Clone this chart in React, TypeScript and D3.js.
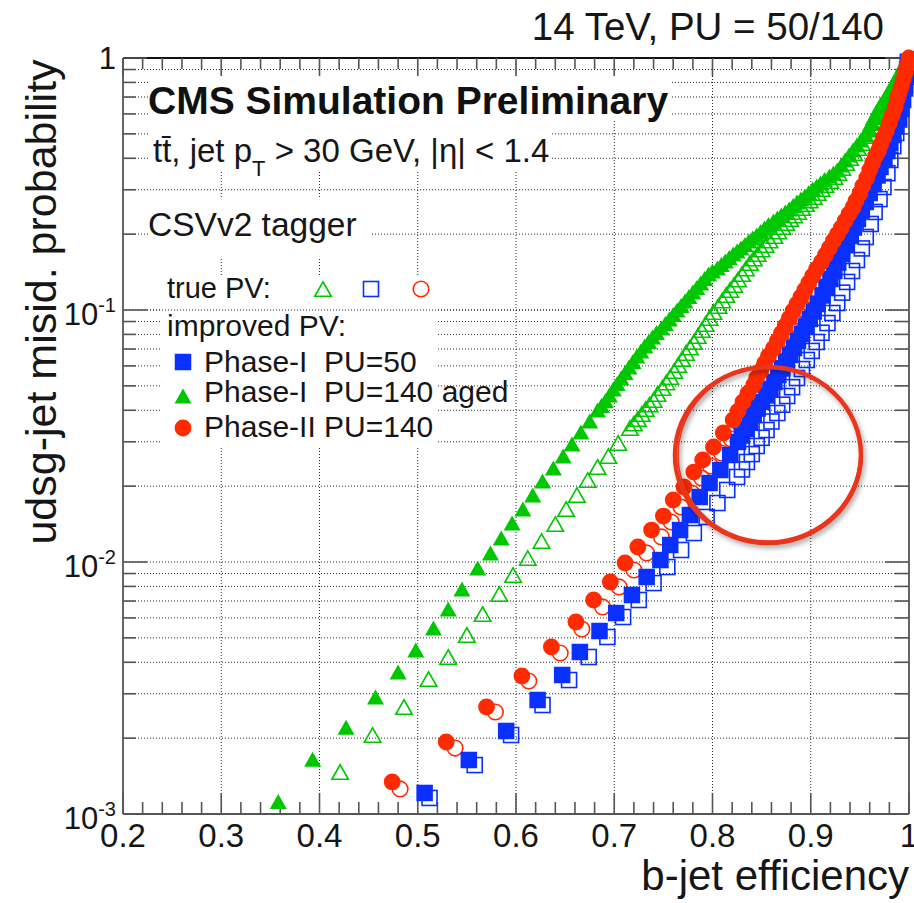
import React from 'react';
import * as d3 from 'd3';

type Pt = [number, number];

// ---------- axis ticks ----------
const xTickValues = [0.2, 0.3, 0.4, 0.5, 0.6, 0.7, 0.8, 0.9, 1.0];
const xTickLabels = ['0.2', '0.3', '0.4', '0.5', '0.6', '0.7', '0.8', '0.9', '1'];
const yDecadeValues = [0.001, 0.01, 0.1, 1];
const yDecadeBase = ['10', '10', '10', '1'];
const yDecadeExp = ['-3', '-2', '-1', ''];

// ---------- data: [b-jet efficiency, udsg mistag] ----------
// Phase-I PU=140 aged, improved PV (filled green triangles)
const agedImproved: Pt[] = [
  [0.358, 0.00112], [0.393, 0.00165], [0.427, 0.00221], [0.457, 0.00291], [0.480, 0.00366],
  [0.498, 0.00448], [0.516, 0.00547], [0.531, 0.00651], [0.545, 0.00782], [0.561, 0.00947],
  [0.574, 0.01086], [0.585, 0.01245], [0.596, 0.01428], [0.607, 0.01623], [0.617, 0.01844],
  [0.627, 0.02097], [0.638, 0.0236], [0.648, 0.02634], [0.657, 0.02939], [0.666, 0.0328],
  [0.675, 0.03627], [0.683, 0.0401], [0.687, 0.0418], [0.691, 0.0436], [0.695, 0.046],
  [0.699, 0.0486], [0.703, 0.0511], [0.707, 0.0537], [0.711, 0.0565], [0.715, 0.0594],
  [0.719, 0.0625], [0.723, 0.0657], [0.727, 0.0688], [0.731, 0.072], [0.735, 0.075],
  [0.739, 0.0782], [0.743, 0.0814], [0.748, 0.0848], [0.752, 0.0884], [0.756, 0.0921],
  [0.760, 0.096], [0.764, 0.1], [0.768, 0.1042], [0.772, 0.1086], [0.776, 0.1131],
  [0.780, 0.1179], [0.784, 0.1228], [0.788, 0.128], [0.792, 0.1333], [0.796, 0.1389],
  [0.800, 0.1428], [0.805, 0.1468], [0.809, 0.1515], [0.813, 0.1565], [0.817, 0.1616],
  [0.821, 0.1668], [0.825, 0.1714], [0.829, 0.1762], [0.833, 0.1819], [0.837, 0.1878],
  [0.841, 0.193], [0.845, 0.1984], [0.849, 0.2048], [0.853, 0.2115], [0.857, 0.2184],
  [0.862, 0.2255], [0.866, 0.2318], [0.870, 0.2382], [0.874, 0.2449], [0.878, 0.2517],
  [0.882, 0.2599], [0.886, 0.2683], [0.890, 0.2758], [0.894, 0.2836], [0.898, 0.2927],
  [0.902, 0.3021], [0.906, 0.3105], [0.910, 0.3192], [0.914, 0.3295], [0.919, 0.3402],
  [0.923, 0.3497], [0.927, 0.3594], [0.931, 0.3762], [0.935, 0.3938], [0.939, 0.4122],
  [0.943, 0.4315], [0.947, 0.4516], [0.951, 0.4727], [0.955, 0.4948], [0.959, 0.5179],
  [0.963, 0.5496], [0.966, 0.5833], [0.970, 0.6162], [0.973, 0.6509], [0.976, 0.6813],
  [0.978, 0.713], [0.981, 0.7498], [0.984, 0.7885], [0.987, 0.8254], [0.990, 0.864],
  [0.993, 0.9002], [0.995, 0.938], [0.997, 0.9685], [0.999, 1.0],
];
// Phase-I PU=140 aged, true PV (open green triangles)
const agedTrue: Pt[] = [
  [0.421, 0.001468], [0.454, 0.002058], [0.486, 0.002658], [0.511, 0.003433], [0.531, 0.004198],
  [0.550, 0.005133], [0.566, 0.006218], [0.583, 0.007464], [0.597, 0.00888], [0.612, 0.01037],
  [0.626, 0.01211], [0.640, 0.01415], [0.651, 0.01623], [0.662, 0.01844], [0.673, 0.02115],
  [0.683, 0.02382], [0.694, 0.02634], [0.704, 0.02966], [0.716, 0.03402], [0.720, 0.03545],
  [0.724, 0.03694], [0.728, 0.03866], [0.732, 0.04047], [0.736, 0.04217], [0.740, 0.04394],
  [0.744, 0.04642], [0.749, 0.04904], [0.753, 0.05157], [0.757, 0.05422], [0.761, 0.05727],
  [0.765, 0.06049], [0.769, 0.06391], [0.773, 0.06752], [0.777, 0.07099], [0.781, 0.07464],
  [0.785, 0.07885], [0.789, 0.0833], [0.793, 0.088], [0.797, 0.09296], [0.801, 0.0982],
  [0.806, 0.1037], [0.810, 0.1091], [0.814, 0.1147], [0.818, 0.1201], [0.822, 0.1257],
  [0.826, 0.1321], [0.830, 0.1389], [0.834, 0.1461], [0.838, 0.1536], [0.842, 0.1601],
  [0.846, 0.1668], [0.850, 0.1738], [0.854, 0.1811], [0.858, 0.1887], [0.863, 0.1966],
  [0.867, 0.2049], [0.871, 0.2135], [0.875, 0.2214], [0.879, 0.2297], [0.883, 0.2372],
  [0.887, 0.2449], [0.891, 0.254], [0.895, 0.2634], [0.899, 0.272], [0.903, 0.2808],
  [0.907, 0.2913], [0.911, 0.3021], [0.915, 0.3133], [0.920, 0.325], [0.924, 0.3372],
  [0.928, 0.3498], [0.932, 0.3661], [0.936, 0.3831], [0.940, 0.401], [0.944, 0.4198],
  [0.948, 0.4394], [0.952, 0.46], [0.956, 0.4903], [0.959, 0.5227], [0.962, 0.5522],
  [0.965, 0.5833], [0.968, 0.6134], [0.971, 0.645], [0.975, 0.6782], [0.978, 0.713],
  [0.981, 0.7464], [0.984, 0.7813], [0.987, 0.8216], [0.990, 0.864], [0.993, 0.9002],
  [0.995, 0.938], [0.997, 0.9685], [0.999, 1.0],
];
// Phase-I PU=50, improved PV (filled blue squares)
const pu50Improved: Pt[] = [
  [0.507, 0.001212], [0.552, 0.001638], [0.590, 0.002135], [0.622, 0.002834], [0.647, 0.003561],
  [0.665, 0.004394], [0.685, 0.005323], [0.702, 0.006273], [0.718, 0.007396], [0.733, 0.00872],
  [0.747, 0.01018], [0.757, 0.01168], [0.767, 0.01339], [0.777, 0.01536], [0.787, 0.01811],
  [0.797, 0.02058], [0.808, 0.02318], [0.818, 0.02658], [0.826, 0.02994], [0.830, 0.03177],
  [0.834, 0.03371], [0.838, 0.03594], [0.842, 0.03831], [0.846, 0.04066], [0.850, 0.04315],
  [0.855, 0.04579], [0.859, 0.04859], [0.863, 0.0518], [0.867, 0.05522], [0.871, 0.05861],
  [0.875, 0.06218], [0.879, 0.06629], [0.883, 0.07066], [0.887, 0.07533], [0.891, 0.0803],
  [0.895, 0.086], [0.899, 0.09211], [0.903, 0.09862], [0.907, 0.1056], [0.912, 0.1142],
  [0.916, 0.1234], [0.920, 0.1327], [0.924, 0.1428], [0.928, 0.1543], [0.932, 0.1668],
  [0.936, 0.1811], [0.940, 0.1966], [0.944, 0.2125], [0.948, 0.2297], [0.952, 0.2483],
  [0.956, 0.2683], [0.960, 0.2913], [0.964, 0.3162], [0.968, 0.3418], [0.971, 0.3694],
  [0.975, 0.3974], [0.978, 0.4275], [0.981, 0.46], [0.984, 0.495], [0.987, 0.535],
  [0.989, 0.578], [0.992, 0.6276], [0.994, 0.6813], [0.996, 0.757], [0.997, 0.8407],
  [0.998, 0.9], [0.999, 0.964],
];
// Phase-I PU=50, true PV (open blue squares)
const pu50True: Pt[] = [
  [0.512, 0.001158], [0.558, 0.001564], [0.595, 0.002058], [0.627, 0.002707], [0.654, 0.003401],
  [0.674, 0.004198], [0.693, 0.00504], [0.709, 0.006049], [0.725, 0.007066], [0.740, 0.00825],
  [0.754, 0.00955], [0.768, 0.01116], [0.781, 0.01303], [0.794, 0.01509], [0.805, 0.01714],
  [0.815, 0.01931], [0.825, 0.02175], [0.830, 0.0233], [0.835, 0.02494], [0.840, 0.0268],
  [0.845, 0.02886], [0.850, 0.0311], [0.855, 0.0334], [0.860, 0.0361], [0.866, 0.03902],
  [0.871, 0.0421], [0.876, 0.04557], [0.881, 0.0494], [0.886, 0.05373], [0.891, 0.0583],
  [0.896, 0.06333], [0.901, 0.0688], [0.906, 0.07464], [0.911, 0.0812], [0.917, 0.08876],
  [0.922, 0.0973], [0.927, 0.1066], [0.932, 0.1172], [0.937, 0.1292], [0.942, 0.1428],
  [0.947, 0.1579], [0.952, 0.1755], [0.956, 0.1949], [0.961, 0.2195], [0.965, 0.2449],
  [0.970, 0.2755], [0.974, 0.3076], [0.978, 0.349], [0.981, 0.3938], [0.984, 0.447],
  [0.987, 0.504], [0.990, 0.57], [0.992, 0.639], [0.996, 0.7813], [0.999, 0.964],
];
// Phase-II PU=140, improved PV (filled red circles)
const phase2Improved: Pt[] = [
  [0.474, 0.00134], [0.529, 0.001931], [0.570, 0.002658], [0.606, 0.003529], [0.636, 0.0046],
  [0.661, 0.00578], [0.679, 0.007066], [0.696, 0.00833], [0.711, 0.00991], [0.724, 0.01147],
  [0.738, 0.01339], [0.750, 0.01522], [0.760, 0.01762], [0.771, 0.01984], [0.781, 0.02275],
  [0.790, 0.0254], [0.801, 0.0286], [0.811, 0.0325], [0.821, 0.0366], [0.826, 0.0397],
  [0.831, 0.04315], [0.836, 0.04664], [0.842, 0.0504], [0.845, 0.05373], [0.849, 0.05727],
  [0.853, 0.06133], [0.857, 0.06569], [0.862, 0.07035], [0.866, 0.07534], [0.870, 0.08068],
  [0.874, 0.0864], [0.878, 0.09253], [0.882, 0.0991], [0.886, 0.1056], [0.890, 0.1126],
  [0.894, 0.12], [0.898, 0.128], [0.902, 0.1365], [0.906, 0.1455], [0.911, 0.1551],
  [0.915, 0.1653], [0.919, 0.1762], [0.923, 0.1878], [0.927, 0.1993], [0.931, 0.2115],
  [0.935, 0.2255], [0.939, 0.2404], [0.943, 0.2551], [0.946, 0.2707], [0.950, 0.2899],
  [0.953, 0.3104], [0.957, 0.334], [0.960, 0.3594], [0.963, 0.3831], [0.966, 0.4084],
  [0.969, 0.4295], [0.971, 0.4517], [0.974, 0.4814], [0.977, 0.5131], [0.980, 0.5521],
  [0.983, 0.594], [0.986, 0.6391], [0.988, 0.6876], [0.990, 0.7263], [0.992, 0.7673],
  [0.994, 0.818], [0.996, 0.872], [0.998, 0.934], [1.0, 1.0],
];
// Phase-II PU=140, true PV (open red circles)
const phase2True: Pt[] = [
  [0.482, 0.001257], [0.538, 0.001827], [0.579, 0.00254], [0.613, 0.003371], [0.645, 0.004354],
  [0.667, 0.005422], [0.688, 0.006631], [0.705, 0.00796], [0.720, 0.009296], [0.733, 0.01086],
  [0.748, 0.01257], [0.758, 0.01441], [0.768, 0.01653], [0.779, 0.01878], [0.789, 0.02154],
  [0.798, 0.02404], [0.809, 0.02707], [0.819, 0.03077], [0.829, 0.03466], [0.834, 0.03762],
  [0.839, 0.04084], [0.845, 0.04414], [0.850, 0.04771], [0.854, 0.05086], [0.858, 0.05422],
  [0.862, 0.05806], [0.866, 0.06218], [0.870, 0.06658], [0.874, 0.0713], [0.878, 0.07637],
  [0.882, 0.0818], [0.886, 0.0876], [0.890, 0.09381], [0.894, 0.1], [0.898, 0.1066],
  [0.902, 0.1137], [0.906, 0.1212], [0.911, 0.1292], [0.915, 0.1377], [0.919, 0.1468],
  [0.923, 0.1565], [0.927, 0.1668], [0.931, 0.1778], [0.935, 0.1895], [0.939, 0.2021],
  [0.943, 0.2154], [0.947, 0.2297], [0.951, 0.246], [0.954, 0.2634], [0.958, 0.2834],
  [0.961, 0.3048], [0.964, 0.328], [0.967, 0.3528], [0.971, 0.3796], [0.974, 0.4084],
  [0.977, 0.4435], [0.980, 0.4815], [0.983, 0.5275], [0.986, 0.578], [0.989, 0.6333],
  [0.991, 0.694], [0.993, 0.7535], [0.995, 0.818], [0.997, 0.888], [0.999, 0.964],
];

const GREEN = '#00c800';
const BLUE = '#0a30ff';
const RED = '#ff2a00';
const FONT = '"Liberation Sans", Arial, Helvetica, sans-serif';
const TXT = '#161616';

type Shape = 'square' | 'triangle' | 'circle';

function Marker({ shape, cx, cy, color, filled }: { shape: Shape; cx: number; cy: number; color: string; filled: boolean }) {
  const sw = 1.6;
  if (shape === 'square') {
    const s = filled ? 16.5 : 15;
    return (
      <rect x={cx - s / 2} y={cy - s / 2} width={s} height={s}
        fill={filled ? color : 'none'} stroke={filled ? 'none' : color} strokeWidth={sw} />
    );
  }
  if (shape === 'circle') {
    const r = filled ? 8.4 : 7.8;
    return <circle cx={cx} cy={cy} r={r} fill={filled ? color : 'none'} stroke={filled ? 'none' : color} strokeWidth={sw} />;
  }
  const w = filled ? 17 : 16.5;
  const h = filled ? 15 : 14.5;
  const d = `M${cx},${cy - h / 2}L${cx + w / 2},${cy + h / 2}L${cx - w / 2},${cy + h / 2}Z`;
  return <path d={d} fill={filled ? color : 'none'} stroke={filled ? 'none' : color} strokeWidth={sw} strokeLinejoin="miter" />;
}

export default function App() {
  const L = 123, R = 909, T = 58, B = 814;
  const x = d3.scaleLinear().domain([0.2, 1]).range([L, R]);
  const y = d3.scaleLog().domain([0.001, 1]).range([B, T]);

  const xMinor = d3.range(0, 41).map((i) => 0.2 + i * 0.02);
  const yAll: number[] = [];
  [0.001, 0.01, 0.1].forEach((d) => {
    for (let k = 1; k <= 9; k++) yAll.push(k * d);
  });
  yAll.push(1);
  const isDecade = (v: number) => yDecadeValues.some((d) => Math.abs(d - v) / d < 1e-6);

  const series: { data: Pt[]; shape: Shape; color: string; filled: boolean }[] = [
    { data: agedTrue, shape: 'triangle', color: GREEN, filled: false },
    { data: pu50True, shape: 'square', color: BLUE, filled: false },
    { data: phase2True, shape: 'circle', color: RED, filled: false },
    { data: agedImproved, shape: 'triangle', color: GREEN, filled: true },
    { data: pu50Improved, shape: 'square', color: BLUE, filled: true },
    { data: phase2Improved, shape: 'circle', color: RED, filled: true },
  ];

  const gridColor = '#2a2a2a';
  const axisColor = '#555';

  const whiteBoxes = [
    { x: 148, y: 75, w: 524, h: 46 },
    { x: 148, y: 121, w: 403, h: 50 },
    { x: 148, y: 198, w: 222, h: 59 },
    { x: 160, y: 275, w: 277, h: 171 },
  ];

  return (
    <svg width={914} height={903} style={{ position: 'absolute', left: 0, top: 0, background: '#fff' }}
      fontFamily={FONT}>
      <defs>
        <filter id="shadow" x="-20%" y="-20%" width="140%" height="140%">
          <feDropShadow dx="2" dy="3" stdDeviation="2.5" floodColor="#000" floodOpacity="0.35" />
        </filter>
      </defs>
      <rect x={0} y={0} width={914} height={903} fill="#fff" />

      {/* grid */}
      <g stroke={gridColor} strokeWidth={1} strokeDasharray="1 2">
        {yAll.filter((v) => v > 0.0011 && v < 0.99).map((v, i) => (
          <line key={'hg' + i} x1={L} x2={R} y1={y(v)} y2={y(v)} />
        ))}
        {xTickValues.filter((v) => v > 0.21 && v < 0.99).map((v, i) => (
          <line key={'vg' + i} x1={x(v)} x2={x(v)} y1={T} y2={B} />
        ))}
      </g>

      {/* text boxes hide grid */}
      {whiteBoxes.map((b, i) => (
        <rect key={'wb' + i} x={b.x} y={b.y} width={b.w} height={b.h} fill="#fff" />
      ))}
      <line x1={147} x2={R} y1={y(0.1)} y2={y(0.1)} stroke={gridColor} strokeWidth={1} strokeDasharray="1 2" />

      {/* frame */}
      <g stroke={axisColor} strokeWidth={1.8} fill="none">
        <line x1={L} x2={L} y1={T} y2={B} />
        <line x1={R} x2={R} y1={T} y2={B} />
        <line x1={L} x2={R} y1={B} y2={B} />
      </g>
      <line x1={L} x2={R} y1={T} y2={T} stroke="#111" strokeWidth={1.8} />

      {/* ticks */}
      <g stroke={axisColor} strokeWidth={1.6}>
        {xMinor.map((v, i) => {
          const major = i % 5 === 0;
          return (
            <g key={'xt' + i}>
              <line x1={x(v)} x2={x(v)} y1={B} y2={B - (major ? 21 : 12)} />
              <line x1={x(v)} x2={x(v)} y1={T} y2={T + (major ? 18 : 11)} />
            </g>
          );
        })}
        {yAll.map((v, i) => {
          const major = isDecade(v);
          return (
            <g key={'yt' + i}>
              <line x1={L} x2={L + (major ? 24 : 13)} y1={y(v)} y2={y(v)} />
              <line x1={R} x2={R - (major ? 24 : 14)} y1={y(v)} y2={y(v)} />
            </g>
          );
        })}
      </g>

      {/* tick labels */}
      <g fill={TXT} fontSize={33} textAnchor="middle">
        {xTickValues.map((v, i) => (
          <text key={'xl' + i} x={x(v)} y={847}>{xTickLabels[i]}</text>
        ))}
      </g>
      <g fill={TXT} textAnchor="end">
        {yDecadeValues.map((v, i) => (
          <text key={'yl' + i} x={116} y={y(v) + (yDecadeExp[i] ? 15 : 11)} fontSize={31}>
            <tspan>{yDecadeBase[i]}</tspan>
            {yDecadeExp[i] ? <tspan dy={-13} fontSize={20}>{yDecadeExp[i]}</tspan> : null}
          </text>
        ))}
      </g>

      {/* axis titles */}
      <text x={909} y={890} textAnchor="end" fontSize={42} fill={TXT}>b-jet efficiency</text>
      <text transform="translate(56,302) rotate(-90)" textAnchor="middle" fontSize={43} fill={TXT}>
        udsg-jet misid. probability
      </text>
      <text x={884} y={40} textAnchor="end" fontSize={38.5} fill={TXT}>14 TeV, PU = 50/140</text>

      {/* header texts */}
      <text x={148} y={114} fontSize={39} fontWeight="bold" fill="#111">CMS Simulation Preliminary</text>
      <text x={153} y={162} fontSize={33} fill={TXT}>
        <tspan>{'tt\u0304, jet p'}</tspan>
        <tspan dy={14} fontSize={22}>T</tspan>
        <tspan dy={-14}>{' > 30 GeV, |\u03b7| < 1.4'}</tspan>
      </text>
      <text x={148} y={236} fontSize={33.5} fill={TXT}>CSVv2 tagger</text>

      {/* legend */}
      <text x={167} y={298} fontSize={29} fill={TXT}>true PV:</text>
      <Marker shape="triangle" cx={323} cy={289} color={GREEN} filled={false} />
      <Marker shape="square" cx={371} cy={289} color={BLUE} filled={false} />
      <Marker shape="circle" cx={421} cy={289} color={RED} filled={false} />
      <text x={167} y={336} fontSize={30} fill={TXT}>improved PV:</text>
      <Marker shape="square" cx={183} cy={362} color={BLUE} filled={true} />
      <text x={204} y={372} fontSize={30} fill={TXT} style={{ whiteSpace: 'pre' }}>{'Phase-I  PU=50'}</text>
      <Marker shape="triangle" cx={183} cy={396} color={GREEN} filled={true} />
      <text x={204} y={402} fontSize={30} fill={TXT} style={{ whiteSpace: 'pre' }}>{'Phase-I  PU=140 aged'}</text>
      <Marker shape="circle" cx={183} cy={428} color={RED} filled={true} />
      <text x={204} y={437} fontSize={30} fill={TXT} style={{ whiteSpace: 'pre' }}>{'Phase-II PU=140'}</text>

      {/* data */}
      {series.map((s, si) => (
        <g key={'s' + si}>
          {s.data.map((p, i) => (
            <Marker key={i} shape={s.shape} cx={x(p[0])} cy={y(p[1])} color={s.color} filled={s.filled} />
          ))}
        </g>
      ))}

      {/* hand-drawn highlight */}
      <g filter="url(#shadow)" fill="none" stroke="#e8351c">
        <ellipse cx={768} cy={455} rx={93} ry={88} strokeWidth={4.5} />
        <ellipse cx={769} cy={454} rx={91} ry={87} strokeWidth={1.5} transform="rotate(-8 769 454)" />
      </g>
    </svg>
  );
}
